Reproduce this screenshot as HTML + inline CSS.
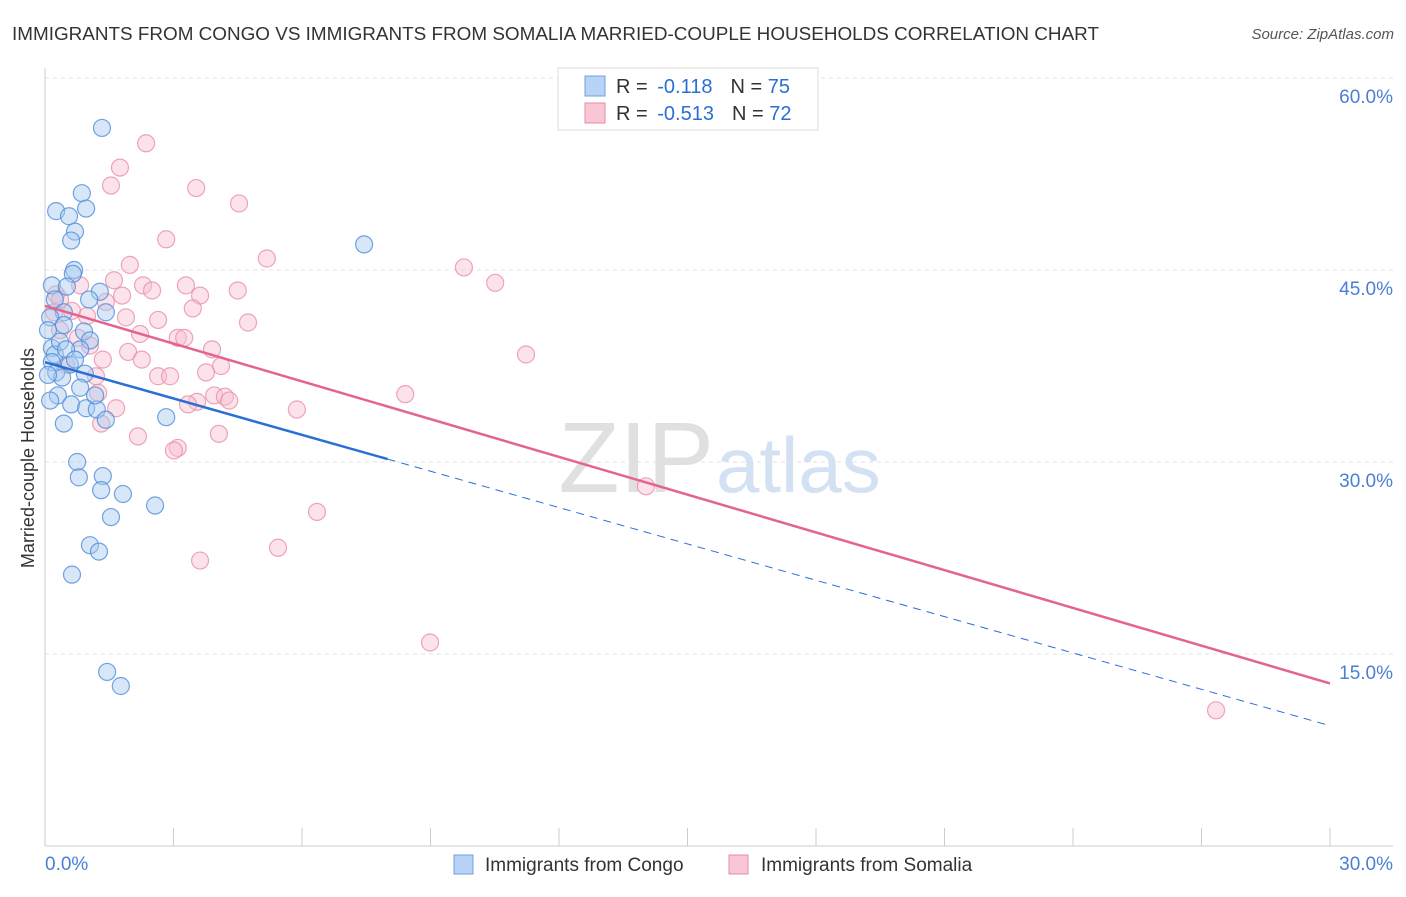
<!DOCTYPE html>
<html><head><meta charset="utf-8"><style>
body{margin:0;background:#fff;font-family:"Liberation Sans",sans-serif;}
svg text{font-family:"Liberation Sans",sans-serif;}
</style></head><body>
<svg id="chart" width="1406" height="892">
<text x="12" y="40" font-size="18" fill="#333" textLength="1087" lengthAdjust="spacingAndGlyphs">IMMIGRANTS FROM CONGO VS IMMIGRANTS FROM SOMALIA MARRIED-COUPLE HOUSEHOLDS CORRELATION CHART</text>
<text x="1394" y="39" font-size="15" fill="#555" font-style="italic" text-anchor="end">Source: ZipAtlas.com</text>
<text x="714" y="492" font-size="100" fill="#e0e0e0" text-anchor="end" font-family="Liberation Serif">ZIP</text>
<text x="716" y="492" font-size="78" fill="#d3e1f3">atlas</text>
<text transform="translate(34,458) rotate(-90)" font-size="18" fill="#333" text-anchor="middle">Married-couple Households</text>
<g id="grid"></g><g id="axes"></g><g id="pts"></g><g id="lines"></g>
<g>
<rect x="558" y="68" width="260" height="62" fill="#fff" stroke="#ddd"/>
<rect x="585" y="76" width="20" height="20" fill="#b8d3f5" stroke="#6fa0e0"/>
<text x="616" y="93" font-size="20" fill="#333">R = <tspan dx="4" fill="#2a6fd6">-0.118</tspan><tspan dx="18">N = </tspan><tspan fill="#2a6fd6">75</tspan></text>
<rect x="585" y="103" width="20" height="20" fill="#f8c6d4" stroke="#e88aa6"/>
<text x="616" y="120" font-size="20" fill="#333">R = <tspan dx="4" fill="#2a6fd6">-0.513</tspan><tspan dx="18">N = </tspan><tspan fill="#2a6fd6">72</tspan></text>
</g>
<g>
<rect x="454" y="855" width="19" height="19" fill="#b8d3f5" stroke="#6fa0e0"/>
<text x="485" y="871" font-size="19" fill="#333">Immigrants from Congo</text>
<rect x="729" y="855" width="19" height="19" fill="#f8c6d4" stroke="#e88aa6"/>
<text x="761" y="871" font-size="19" fill="#333">Immigrants from Somalia</text>
</g>
</svg>
<script>
const yTicks=[15,30,45,60];
const yTickLabels=["15.0%","30.0%","45.0%","60.0%"];
const xTickLabels=["0.0%","30.0%"];
const congoX=[1.33,0.26,0.86,0.96,0.56,0.70,0.61,7.45,0.68,0.65,0.16,0.51,1.28,1.03,0.23,1.42,0.44,0.12,0.44,0.91,1.05,0.16,0.82,0.23,0.16,0.58,0.26,0.93,0.40,0.82,0.30,0.61,0.96,1.21,1.42,2.83,0.44,0.75,0.79,1.35,1.31,1.82,2.57,1.54,1.05,1.26,0.63,1.45,1.77,0.07,0.35,0.49,0.70,0.07,1.17,0.12];
const congoY=[56.1,49.6,51.0,49.8,49.2,48.0,47.3,47.0,45.0,44.7,43.8,43.7,43.3,42.7,42.7,41.7,41.7,41.3,40.7,40.2,39.5,38.9,38.8,38.4,37.8,37.6,37.0,36.9,36.6,35.8,35.2,34.5,34.2,34.1,33.3,33.5,33.0,30.0,28.8,28.9,27.8,27.5,26.6,25.7,23.5,23.0,21.2,13.6,12.5,40.3,39.4,38.8,38.0,36.8,35.2,34.8];
const somaliaX=[2.36,1.75,1.54,3.53,4.53,2.83,5.18,9.78,10.51,1.98,1.61,2.29,2.50,3.29,4.50,3.62,1.80,0.82,1.42,3.45,1.89,2.64,4.74,0.26,0.35,0.63,2.22,3.10,3.25,1.05,1.94,3.90,11.23,1.35,2.26,4.11,3.76,1.19,2.64,2.92,1.24,3.95,4.20,8.41,4.30,3.55,3.34,1.66,5.88,1.31,2.17,4.06,3.10,3.01,14.03,6.35,5.44,3.62,8.99,27.34,0.35,0.77,0.21,0.98,0.49];
const somaliaY=[54.9,53.0,51.6,51.4,50.2,47.4,45.9,45.2,44.0,45.4,44.2,43.8,43.4,43.8,43.4,43.0,43.0,43.8,42.5,42.0,41.3,41.1,40.9,43.1,42.7,41.8,40.0,39.7,39.7,39.1,38.6,38.8,38.4,38.0,38.0,37.5,37.0,36.7,36.7,36.7,35.4,35.2,35.1,35.3,34.8,34.7,34.5,34.2,34.1,33.0,32.0,32.2,31.1,30.9,28.1,26.1,23.3,22.3,15.9,10.6,40.3,39.7,41.7,41.4,37.6];
const congoTrend=[37.8,9.4], somaliaTrend=[42.2,12.7], congoSolidEnd=8.0;
const NS="http://www.w3.org/2000/svg";
const X=v=>45+v/30*1285, Y=v=>846-v/15*192;
function mk(t,a,p){const e=document.createElementNS(NS,t);for(const k in a)e.setAttribute(k,a[k]);p.appendChild(e);return e;}
const grid=document.getElementById('grid'),axes=document.getElementById('axes');
yTicks.forEach((t,i)=>{
 const l=mk('line',{x1:45,x2:1393,y1:Y(t),y2:Y(t),stroke:'#e0e0e0','stroke-dasharray':'4,4'},grid);
 
 
 const tx=mk('text',{x:1393,y:Y(t)+25,'font-size':19,fill:'#4a7fd4','text-anchor':'end'},axes);
 tx.textContent=yTickLabels[i];
 
 
});
mk('line',{x1:45,x2:45,y1:68,y2:846,stroke:'#ccc'},axes);
mk('line',{x1:45,x2:1393,y1:846,y2:846,stroke:'#ccc'},axes);
for(let i=0;i<=10;i++){const t=mk('line',{x1:X(i*3),x2:X(i*3),y1:828,y2:846,stroke:'#ccc'},axes);
 
 }
[[0,'start'],[30,'end']].forEach((d,i)=>{const t=mk('text',{x:i?1393:45,y:870,'font-size':19,fill:'#4a7fd4','text-anchor':d[1]},axes);t.textContent=xTickLabels[i];
 
 });
const pts=document.getElementById('pts');
function plot(xs,ys,f,s,n){xs.forEach((x,i)=>{const c=mk('circle',{cx:X(x),cy:Y(ys[i]),r:8.5,fill:f,'fill-opacity':0.45,stroke:s,'stroke-opacity':0.8,'stroke-width':1.2},pts);
 
 });}
plot(somaliaX,somaliaY,'#f8bfd0','#e890aa','somalia-point');
plot(congoX,congoY,'#a9c9f0','#4f8ddb','congo-point');
const L=document.getElementById('lines');
const cy=x=>congoTrend[0]+(congoTrend[1]-congoTrend[0])*x/30;
let a=mk('line',{x1:X(0),y1:Y(cy(0)),x2:X(congoSolidEnd),y2:Y(cy(congoSolidEnd)),stroke:'#2a6fd6','stroke-width':2.5},L);


a=mk('line',{x1:X(congoSolidEnd),y1:Y(cy(congoSolidEnd)),x2:X(30),y2:Y(cy(30)),stroke:'#2a6fd6','stroke-width':1,'stroke-dasharray':'8,6'},L);


a=mk('line',{x1:X(0),y1:Y(somaliaTrend[0]),x2:X(30),y2:Y(somaliaTrend[1]),stroke:'#e4648c','stroke-width':2.5},L);


</script>
</body></html>
